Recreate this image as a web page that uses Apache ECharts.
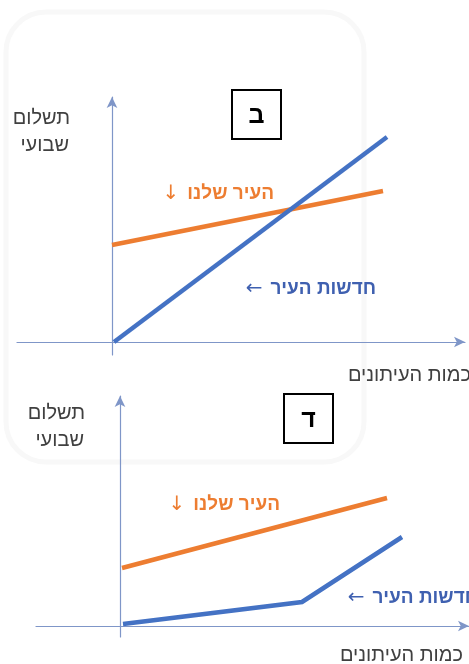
<!DOCTYPE html>
<html>
<head>
<meta charset="utf-8">
<script src="https://cdn.jsdelivr.net/npm/echarts@6/dist/echarts.min.js"></script>
<style>
    html, body { margin: 0; padding: 0; background: #ffffff; }
    #main { width: 469px; height: 664px; }
</style>
</head>
<body>
<div id="main"></div>
<script>
// chart ב : points [quantity, weekly pay]
var topCityNews = [[0.2, 0], [27.5, 20.5]];
var topOurCity = [[0, 9.7], [27.1, 15.1]];
// chart ד
var bottomCityNews = [[0.3, 0.2], [18.2, 2.4], [28.2, 8.9]];
var bottomOurCity = [[0.2, 5.8], [26.7, 12.8]];

var labelPay = ['תשלום', 'שבועי'];
var labelQty = 'כמות העיתונים';
var labelOurCity = 'העיר שלנו';
var labelCityNews = 'חדשות העיר';
var panelNames = ['ב', 'ד'];

var FONT = "'Liberation Sans', 'DejaVu Sans', sans-serif";
var AXIS_COLOR = '#7f96c8';
var BLUE = '#4472c4';
var BLUE_TEXT = '#3f60b0';
var ORANGE = '#ed7d31';
var GRAY = '#404040';

var Diagram = {
    init: function () {
        var myChart = echarts.init(document.getElementById('main'), null, { renderer: 'canvas' });
        myChart.setOption(Diagram.getOption());
    },
    axis: function (gridIndex, min, max) {
        return {
            type: 'value', gridIndex: gridIndex, min: min, max: max,
            axisLine: { show: true, onZero: true, symbol: ['none', 'arrow'], symbolSize: [8, 11],
                lineStyle: { color: AXIS_COLOR, width: 1.2 } },
            axisTick: { show: false }, axisLabel: { show: false }, splitLine: { show: false }
        };
    },
    line: function (idx, data, color) {
        return {
            type: 'line', xAxisIndex: idx, yAxisIndex: idx, data: data,
            showSymbol: false, silent: true, animation: false,
            lineStyle: { color: color, width: 4.5, cap: 'butt', join: 'miter' }
        };
    },
    text: function (str, right, y, color, size, bold) {
        return {
            type: 'text', x: right, y: y,
            style: {
                text: str, fill: color, fontSize: size, fontWeight: bold ? 'bold' : 'normal',
                fontFamily: FONT, align: 'right', verticalAlign: 'middle'
            }
        };
    },
    // label with an arrow glyph on its left side
    arrowText: function (str, arrow, right, y, color) {
        return {
            type: 'text', x: right, y: y,
            style: {
                text: '{a|' + arrow + '}{t|' + str + '}',
                align: 'right', verticalAlign: 'middle',
                rich: {
                    a: { fontSize: 20, fontFamily: "'DejaVu Sans', sans-serif", fontWeight: 'normal',
                        fill: color, padding: [0, 8, 0, 0] },
                    t: { fontSize: 19, fontFamily: FONT, fontWeight: 'bold', fill: color }
                }
            }
        };
    },
    box: function (x, y, letter) {
        return [{
            type: 'rect', x: x, y: y,
            shape: { width: 49, height: 49 },
            style: { fill: '#fff', stroke: '#000', lineWidth: 2 }
        }, {
            type: 'text', x: x + 24.5, y: y + 26,
            style: {
                text: letter, fill: '#000', fontSize: 25, fontWeight: 'bold', fontFamily: FONT,
                align: 'center', verticalAlign: 'middle'
            }
        }];
    },
    getOption: function () {
        var graphic = [
            // faint background frame
            {
                type: 'rect', x: 6, y: 12, z: -10,
                shape: { width: 358, height: 450, r: 40 },
                style: { fill: 'none', stroke: '#f8f8f8', lineWidth: 5 }
            },
            Diagram.text(labelPay[0], 70, 118, GRAY, 20, false),
            Diagram.text(labelPay[1], 69, 145, GRAY, 20, false),
            Diagram.arrowText(labelOurCity, '↓', 274, 194, ORANGE),
            Diagram.arrowText(labelCityNews, '←', 376, 289, BLUE_TEXT),
            Diagram.text(labelQty, 471, 375, GRAY, 20, false),
            Diagram.text(labelPay[0], 85, 413, GRAY, 20, false),
            Diagram.text(labelPay[1], 84, 440, GRAY, 20, false),
            Diagram.arrowText(labelOurCity, '↓', 280, 505, ORANGE),
            Diagram.arrowText(labelCityNews, '←', 478, 598, BLUE_TEXT),
            Diagram.text(labelQty, 463, 655, GRAY, 20, false)
        ];
        graphic = graphic.concat(Diagram.box(232, 90, panelNames[0]), Diagram.box(284, 394, panelNames[1]));

        return {
            backgroundColor: '#ffffff',
            animation: false,
            grid: [
                { left: 17, right: 4, top: 97, bottom: 309 },
                { left: 36, right: 0, top: 396, bottom: 27 }
            ],
            xAxis: [Diagram.axis(0, -9.5, 35.3), Diagram.axis(1, -8.4, 34.9)],
            yAxis: [Diagram.axis(0, -1.3, 24.5), Diagram.axis(1, -1.1, 23)],
            series: [
                Diagram.line(0, topOurCity, ORANGE),
                Diagram.line(0, topCityNews, BLUE),
                Diagram.line(1, bottomOurCity, ORANGE),
                Diagram.line(1, bottomCityNews, BLUE)
            ],
            graphic: graphic
        };
    }
};

Diagram.init();
</script>
</body>
</html>
